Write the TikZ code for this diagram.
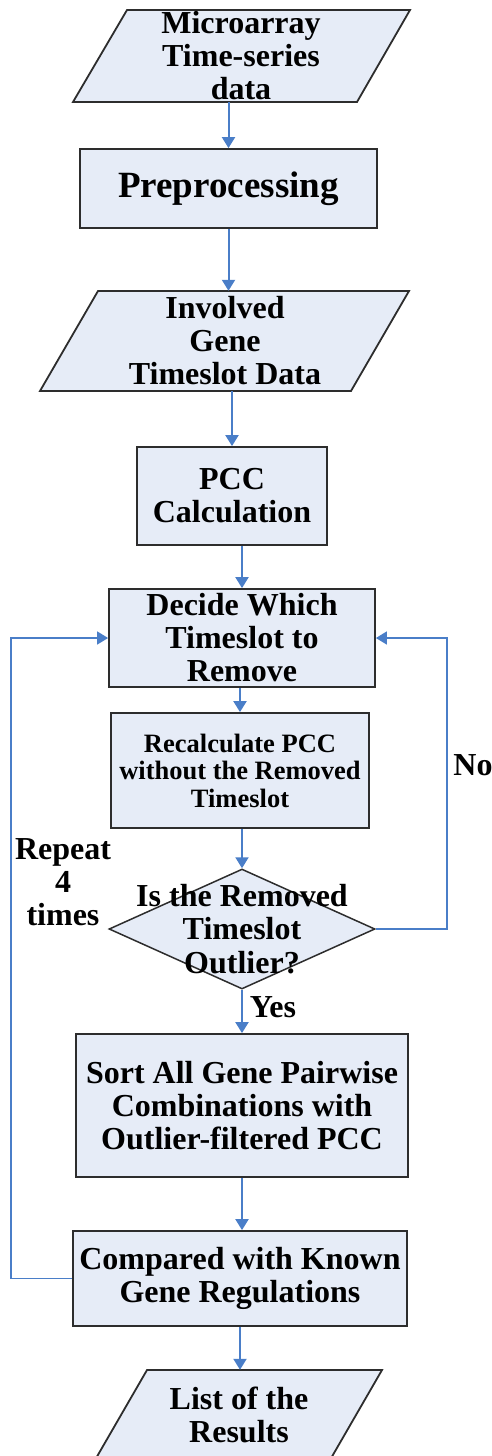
\documentclass[tikz,border=0pt]{standalone}
\usepackage{fontspec}
\setmainfont{Liberation Serif}
\usetikzlibrary{shapes.geometric,arrows.meta}
\definecolor{boxfill}{RGB}{230,236,247}
\definecolor{arrowblue}{RGB}{74,126,200}
\definecolor{boxline}{RGB}{45,45,45}
\begin{document}
\begin{tikzpicture}[x=1pt,y=-1pt,
  box/.style={rectangle, draw=boxline, line width=1.8pt, fill=boxfill, inner sep=0pt, align=center,
    font=\bfseries\fontsize{32}{33}\selectfont},
  io/.style={draw=boxline, line width=1.8pt, fill=boxfill, line join=miter},
  decbox/.style={diamond, draw=boxline, line width=1.5pt, fill=boxfill, inner sep=0pt},
  txt/.style={align=center, font=\bfseries\fontsize{32}{33}\selectfont, inner sep=0pt},
  arr/.style={draw=arrowblue, line width=2pt, -{Triangle[width=13pt,length=11pt]}},
  looparr/.style={arr, line width=1.6pt},
]
\useasboundingbox (0,0) rectangle (492,1456);
\clip (0,0) rectangle (492,1456);

% data parallelograms (shapes)
\draw[io] (127,10) -- (410,10) -- (357,102) -- (73,102) -- cycle;
\draw[io] (98,291) -- (409,291) -- (351,391) -- (40,391) -- cycle;
\draw[io] (147,1370) -- (382,1370) -- (330,1460) -- (95,1460) -- cycle;

% nodes
\node[txt, minimum height=92pt] (p1) at (241,56) {Microarray\\Time-series\\data};

\node[box, minimum width=297pt, minimum height=79pt, font=\bfseries\fontsize{37}{40}\selectfont] (pre) at (228.5,188.5) {Preprocessing};

\node[txt, minimum height=100pt] (p2) at (225,341) {Involved\\Gene\\Timeslot Data};

\node[box, minimum width=190pt, minimum height=98pt] (pcc) at (232,496) {PCC\\Calculation};

\node[box, minimum width=266pt, minimum height=98pt] (dec) at (242,638) {Decide Which\\Timeslot to\\Remove};

\node[box, minimum width=258pt, minimum height=115pt, font=\bfseries\fontsize{26.5}{27.5}\selectfont] (rec) at (240,770.5) {Recalculate PCC\\without the Removed\\Timeslot};

\node[decbox, minimum width=266pt, minimum height=120pt] (dia) at (242,929) {};
\node[txt, font=\bfseries\fontsize{32}{33.5}\selectfont] (diat) at (242,929) {Is the Removed\\Timeslot\\Outlier?};

\node[box, minimum width=332pt, minimum height=143pt] (sort) at (242,1105.5) {Sort All Gene Pairwise\\Combinations with\\Outlier-filtered PCC};

\node[box, minimum width=334pt, minimum height=95pt] (cmp) at (240,1278.5) {Compared with Known\\Gene Regulations};

\node[txt, minimum height=90pt] (p3) at (239,1415) {List of the\\Results};

% labels
\node[txt] (no) at (473,765) {No};
\node[txt] (yes) at (273,1007) {Yes};
\node[txt] (rep) at (63,882) {Repeat\\4\\times};

% connectors
\coordinate (L) at (11,637);
\coordinate (R) at (447,637);
\draw[arr] (p1.south -| pre.north) -- (pre.north);
\draw[arr] (pre.south) -- (p2.north -| pre.south);
\draw[arr] (p2.south -| pcc.north) -- (pcc.north);
\draw[arr] (pcc.south -| dec.north) -- (dec.north);
\draw[arr] (dec.south -| rec.north) -- (rec.north);
\draw[arr] (rec.south -| dia.north) -- (dia.north);
\draw[arr] (dia.south) -- (sort.north -| dia.south);
\draw[arr] (sort.south) -- (cmp.north -| sort.south);
\draw[arr] (cmp.south) -- (p3.north -| cmp.south);
\draw[looparr] (cmp.west) -| (L) |- (dec.west);
\draw[looparr] (dia.east) -| (R) |- (dec.east);
\end{tikzpicture}
\end{document}
